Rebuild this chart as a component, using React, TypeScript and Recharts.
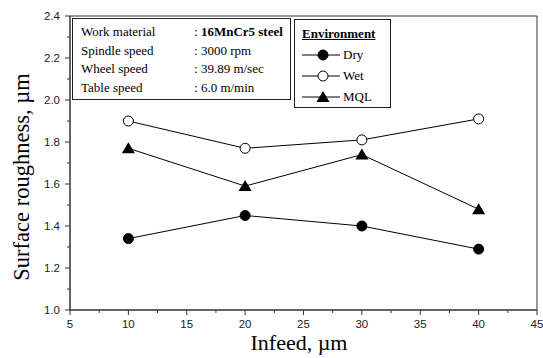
import React from "react";
import {
  LineChart,
  Line,
  XAxis,
  YAxis,
  ReferenceArea,
} from "recharts";

const INFEED = [10, 20, 30, 40];
const DRY = [1.34, 1.45, 1.4, 1.29];
const WET = [1.9, 1.77, 1.81, 1.91];
const MQL = [1.77, 1.59, 1.74, 1.48];

const X_MAJOR = [5, 10, 15, 20, 25, 30, 35, 40, 45];
const X_MINOR = [7.5, 12.5, 17.5, 22.5, 27.5, 32.5, 37.5, 42.5];
const Y_MAJOR = [1.0, 1.2, 1.4, 1.6, 1.8, 2.0, 2.2, 2.4];
const Y_MINOR = [1.1, 1.3, 1.5, 1.7, 1.9, 2.1, 2.3];

const INFO = [
  ["Work material", "16MnCr5 steel"],
  ["Spindle speed", "3000 rpm"],
  ["Wheel speed", "39.89 m/sec"],
  ["Table speed", "6.0 m/min"],
];

const SERIES = [
  { key: "dry", name: "Dry", fill: "#000" },
  { key: "wet", name: "Wet", fill: "#fff" },
  { key: "mql", name: "MQL", fill: "#000" },
];

const data = INFEED.map((x, i) => ({
  infeed: x,
  dry: DRY[i],
  wet: WET[i],
  mql: MQL[i],
}));

const serif = "'Liberation Serif', 'Times New Roman', serif";
const sans = "'Liberation Sans', Arial, sans-serif";

const isXMajor = (v: number) => X_MAJOR.includes(v);
const isYMajor = (v: number) => Y_MAJOR.some((m) => Math.abs(m - v) < 1e-6);

const XTick = (props: any) => {
  const { x, y, payload } = props;
  const major = isXMajor(payload.value);
  return (
    <g>
      <line x1={x} x2={x} y1={y} y2={y + (major ? 5 : 3)} stroke="#333" />
      {major && (
        <text x={x} y={y + 18} textAnchor="middle" fontFamily={sans} fontSize={11.5} fill="#222">
          {payload.value}
        </text>
      )}
    </g>
  );
};

const YTick = (props: any) => {
  const { x, y, payload } = props;
  const major = isYMajor(payload.value);
  return (
    <g>
      <line x1={x} x2={x - (major ? 5 : 3)} y1={y} y2={y} stroke="#333" />
      {major && (
        <text x={x - 10} y={y + 4} textAnchor="end" fontFamily={sans} fontSize={11.5} fill="#222">
          {payload.value.toFixed(1)}
        </text>
      )}
    </g>
  );
};

const Triangle = (props: any) => {
  const { cx, cy } = props;
  if (cx == null || cy == null) return null;
  return <path d={`M${cx},${cy - 6} L${cx + 6.5},${cy + 5} L${cx - 6.5},${cy + 5} Z`} fill="#000" />;
};

const LegendBox = () => (
  <div
    style={{
      position: "absolute",
      left: 294,
      top: 19,
      border: "1.5px solid #222",
      width: 97,
      height: 89,
      boxSizing: "border-box",
      fontFamily: serif,
      fontSize: 13,
      padding: "6px 0 0 7px",
      background: "#fff",
    }}
  >
    <div style={{ fontWeight: "bold", textDecoration: "underline", lineHeight: "16px", marginBottom: 2 }}>
      Environment
    </div>
    {SERIES.map((s) => (
      <div key={s.key} style={{ display: "flex", alignItems: "center", height: 21 }}>
        <svg width={40} height={14}>
          <line x1={0} x2={38} y1={7} y2={7} stroke="#000" />
          {s.key === "mql" ? (
            <path d="M21,1 L27.5,12 L14.5,12 Z" fill="#000" />
          ) : (
            <circle cx={21} cy={7} r={5} fill={s.fill} stroke="#000" />
          )}
        </svg>
        <span style={{ marginLeft: 1 }}>{s.name}</span>
      </div>
    ))}
  </div>
);

export default function App() {
  return (
    <div style={{ position: "absolute", left: 0, top: 0, width: 543, height: 358, background: "#fff" }}>
      <LineChart width={543} height={358} data={data} margin={{ top: 16, right: 6, bottom: 0, left: 30 }}>
        <ReferenceArea x1={5} x2={45} y1={1.0} y2={2.4} fill="none" stroke="#333" strokeWidth={1} />
        <XAxis
          dataKey="infeed"
          type="number"
          domain={[5, 45]}
          ticks={[...X_MAJOR, ...X_MINOR].sort((a, b) => a - b)}
          tick={<XTick />}
          tickSize={0}
          tickMargin={0}
          tickLine={false}
          axisLine={{ stroke: "#333" }}
          height={48}
          interval={0}
        />
        <YAxis
          type="number"
          domain={[1.0, 2.4]}
          ticks={[...Y_MAJOR, ...Y_MINOR].sort((a, b) => a - b)}
          tick={<YTick />}
          tickSize={0}
          tickMargin={0}
          tickLine={false}
          axisLine={{ stroke: "#333" }}
          width={40}
          interval={0}
        />
        <Line dataKey="dry" name="Dry" stroke="#000" strokeWidth={1} isAnimationActive={false}
          dot={{ r: 5, fill: "#000", stroke: "#000", strokeWidth: 1 }} />
        <Line dataKey="wet" name="Wet" stroke="#000" strokeWidth={1} isAnimationActive={false}
          dot={{ r: 5, fill: "#fff", stroke: "#000", strokeWidth: 1 }} />
        <Line dataKey="mql" name="MQL" stroke="#000" strokeWidth={1} isAnimationActive={false}
          dot={<Triangle />} />
      </LineChart>

      <LegendBox />

      <div
        style={{
          position: "absolute",
          left: 72,
          top: 18,
          width: 219,
          height: 82,
          boxSizing: "border-box",
          border: "1.5px solid #222",
          background: "#fff",
          fontFamily: serif,
          fontSize: 13,
          padding: "4px 0 0 8px",
          overflow: "hidden",
        }}
      >
        {INFO.map(([label, value], i) => (
          <div key={label} style={{ display: "flex", height: 18.7, lineHeight: "18.7px", whiteSpace: "nowrap" }}>
            <span style={{ width: 113 }}>{label}</span>
            <span>
              :{" "}
              <span style={{ fontWeight: i === 0 ? "bold" : "normal" }}>{value}</span>
            </span>
          </div>
        ))}
      </div>

      <div
        style={{
          position: "absolute",
          left: 22,
          top: 177,
          transform: "translate(-50%, -50%) rotate(-90deg)",
          fontFamily: serif,
          fontSize: 22.5,
          whiteSpace: "nowrap",
        }}
      >
        Surface roughness, µm
      </div>
      <div
        style={{
          position: "absolute",
          left: 299,
          top: 343,
          transform: "translate(-50%, -50%)",
          fontFamily: serif,
          fontSize: 22,
          whiteSpace: "nowrap",
        }}
      >
        Infeed, µm
      </div>
    </div>
  );
}
